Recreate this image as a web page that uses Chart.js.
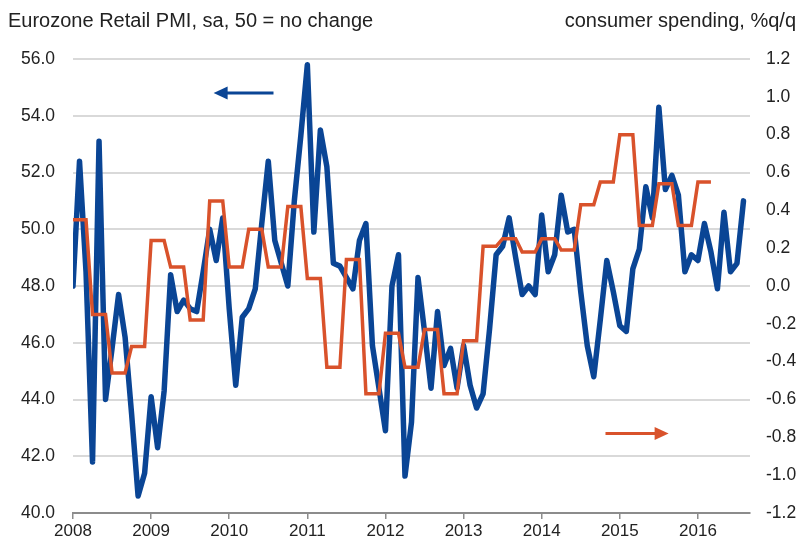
<!DOCTYPE html>
<html>
<head>
<meta charset="utf-8">
<script src="https://cdn.jsdelivr.net/npm/chart.js@4/dist/chart.umd.min.js"></script>
<style>
  html, body { margin: 0; padding: 0; background: #ffffff; }
  #wrap { position: relative; width: 801px; height: 546px; }
</style>
</head>
<body>
<div id="wrap"><canvas id="c" width="801" height="546"></canvas></div>
<script>
// ---- DATA ----
const startYear = 2008;
const yearTicks = ["2008","2009","2010","2011","2012","2013","2014","2015","2016"];
// Eurozone Retail PMI, monthly from Jan 2008 to Aug 2016
const retailPMI = [
  48.0, 52.4, 48.5, 41.8, 53.1, 44.0, 45.8, 47.7, 46.2, 43.5, 40.6, 41.4,
  44.1, 42.3, 44.3, 48.4, 47.1, 47.5, 47.2, 47.1, 48.5, 50.0, 48.9, 50.4,
  47.2, 44.5, 46.9, 47.2, 47.9, 50.2, 52.4, 49.6, 48.8, 48.0, 51.0, 53.3,
  55.8, 49.9, 53.5, 52.2, 48.8, 48.7, 48.3, 47.9, 49.6, 50.2, 45.9, 44.4,
  42.9, 48.0, 49.1, 41.3, 43.2, 48.3, 46.4, 44.4, 47.1, 45.2, 45.8, 44.4,
  45.9, 44.5, 43.7, 44.2, 46.5, 49.1, 49.4, 50.4, 49.0, 47.7, 48.0, 47.7,
  50.5, 48.5, 49.1, 51.2, 49.9, 50.0, 47.8, 45.9, 44.8, 46.8, 48.9, 47.8,
  46.6, 46.4, 48.6, 49.3, 51.5, 50.4, 54.3, 51.4, 51.9, 51.2, 48.5, 49.1,
  48.9, 50.2, 49.2, 47.9, 50.6, 48.5, 48.8, 51.0
];
// Consumer spending, % q/q, quarterly from Q1 2008 to Q1 2016
const consumerSpending = [
  0.35, -0.15, -0.46, -0.32,
  0.24, 0.10, -0.18, 0.45,
  0.10, 0.30, 0.10, 0.42,
  0.04, -0.43, 0.14, -0.57,
  -0.25, -0.43, -0.23, -0.57,
  -0.29, 0.21, 0.25, 0.18,
  0.25, 0.19, 0.43, 0.55,
  0.80, 0.32, 0.54, 0.32,
  0.55
];
const leftTitle = "Eurozone Retail PMI, sa, 50 = no change";
const rightTitle = "consumer spending, %q/q";

// ---- BUILD ----
const pmiPoints = retailPMI.map((v, i) => ({ x: i, y: v }));
const spendPoints = [];
consumerSpending.forEach((v, q) => {
  for (let m = 0; m < 3; m++) spendPoints.push({ x: q * 3 + m, y: v });
});

const BLUE = '#0a4595';
const RED = '#d9522b';
const FONT = "'Liberation Sans', Arial, sans-serif";

const decor = {
  id: 'decor',
  afterDraw(chart) {
    const ctx = chart.ctx;
    const xs = chart.scales.x, yl = chart.scales.yL, yr = chart.scales.yR;
    ctx.save();
    ctx.fillStyle = '#222';
    ctx.font = "20px " + FONT;
    ctx.textBaseline = 'middle';
    ctx.textAlign = 'left';
    ctx.fillText(leftTitle, 8, 21);
    ctx.textAlign = 'right';
    ctx.fillText(rightTitle, 796, 21);

    function arrow(x1, x2, y, color, w) {
      ctx.strokeStyle = color; ctx.fillStyle = color; ctx.lineWidth = w;
      const dir = Math.sign(x2 - x1);
      ctx.beginPath();
      ctx.moveTo(x1, y); ctx.lineTo(x2 - dir * 10, y); ctx.stroke();
      ctx.beginPath();
      ctx.moveTo(x2, y);
      ctx.lineTo(x2 - dir * 14, y - 6.5);
      ctx.lineTo(x2 - dir * 14, y + 6.5);
      ctx.closePath(); ctx.fill();
    }
    // left-pointing arrow: PMI on left axis
    arrow(xs.getPixelForValue(30.8), xs.getPixelForValue(21.6), yl.getPixelForValue(54.8), BLUE, 3);
    // right-pointing arrow: spending on right axis
    arrow(xs.getPixelForValue(81.8), xs.getPixelForValue(91.5), yr.getPixelForValue(-0.78), RED, 3);
    ctx.restore();
  }
};

new Chart(document.getElementById('c'), {
  type: 'line',
  data: {
    datasets: [
      {
        label: 'Consumer spending',
        data: spendPoints,
        yAxisID: 'yR',
        borderColor: RED,
        borderWidth: 3.5,
        pointRadius: 0,
        tension: 0,
        order: 1,
        borderJoinStyle: 'miter'
      },
      {
        label: 'Retail PMI',
        data: pmiPoints,
        yAxisID: 'yL',
        borderColor: BLUE,
        borderWidth: 5.5,
        pointRadius: 0,
        tension: 0,
        order: 2,
        borderJoinStyle: 'round',
        borderCapStyle: 'round'
      }
    ]
  },
  options: {
    responsive: false,
    animation: false,
    devicePixelRatio: 1,
    layout: { padding: { top: 59, left: 0, right: 0, bottom: 0 } },
    plugins: { legend: { display: false }, tooltip: { enabled: false } },
    scales: {
      x: {
        type: 'linear',
        min: 0,
        max: 104,
        afterBuildTicks(scale) {
          scale.ticks = yearTicks.map((t, i) => ({ value: i * 12 }));
        },
        afterFit(scale) { scale.height = 33; },
        ticks: {
          callback: (v) => yearTicks[Math.round(v / 12)],
          font: { size: 17, family: FONT },
          color: '#222',
          padding: 2,
          maxRotation: 0,
          autoSkip: false
        },
        grid: { drawOnChartArea: false, drawTicks: true, tickLength: 6, color: '#8c8c8c', lineWidth: 1.5 },
        border: { display: true, color: '#8c8c8c', width: 2 }
      },
      yL: {
        position: 'left',
        min: 40,
        max: 56,
        afterBuildTicks(scale) {
          const t = []; for (let v = 40; v <= 56; v += 2) t.push({ value: v }); scale.ticks = t;
        },
        afterFit(scale) { scale.width = 73; },
        ticks: {
          callback: (v) => v.toFixed(1),
          font: { size: 17.5, family: FONT },
          color: '#222',
          padding: 18
        },
        grid: { color: '#d9d9d9', lineWidth: 2, drawTicks: false },
        border: { display: false }
      },
      yR: {
        position: 'right',
        min: -1.2,
        max: 1.2,
        afterBuildTicks(scale) {
          const t = []; for (let k = -6; k <= 6; k++) t.push({ value: k * 0.2 }); scale.ticks = t;
        },
        afterFit(scale) { scale.width = 51; },
        ticks: {
          callback: (v) => (Math.abs(v) < 1e-9 ? 0 : v).toFixed(1),
          font: { size: 17.5, family: FONT },
          color: '#222',
          padding: 16
        },
        grid: { drawOnChartArea: false, drawTicks: false },
        border: { display: false }
      }
    }
  },
  plugins: [decor]
});
</script>
</body>
</html>
